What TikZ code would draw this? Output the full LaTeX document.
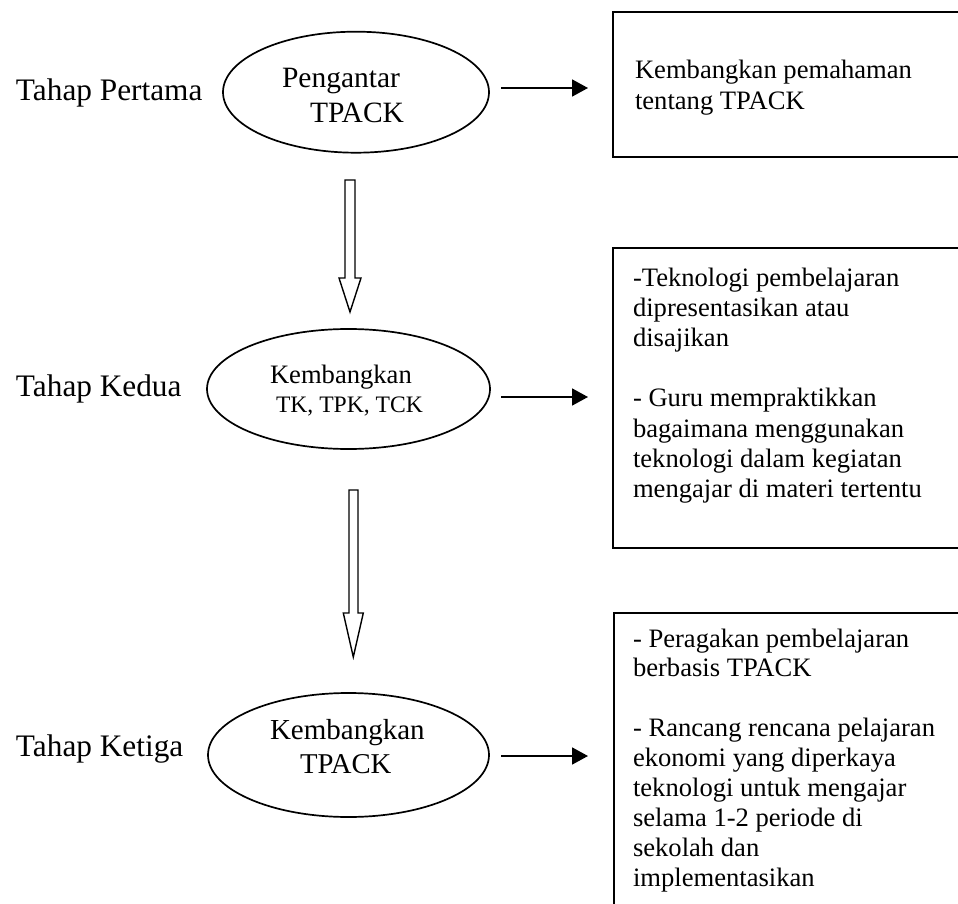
\documentclass[tikz,border=0pt]{standalone}
\usepackage{fontspec}
\setmainfont{Liberation Serif}
\usetikzlibrary{shapes.geometric,arrows.meta}
\tikzset{
  stage/.style={ellipse, draw, line width=1.7pt, inner sep=0pt, outer sep=0pt},
  infobox/.style={draw, line width=1.8pt, anchor=north west, inner sep=0pt, outer sep=0pt},
  rarrow/.style={line width=1.8pt, -{Triangle[length=16pt,width=17pt]}},
  hollowarrow/.style={draw, line width=1.4pt, fill=white, line join=miter},
  lbl/.style={anchor=base west, inner sep=0pt, outer sep=0pt},
}
\newcommand{\boxtext}[3]{\parbox[t]{320pt}{\raggedright\fontsize{26.6}{#1}\selectfont #3}}
\begin{document}
\begin{tikzpicture}[x=1pt,y=-1pt]
\useasboundingbox (0,0) rectangle (958,904);
\clip (0,0) rectangle (958,904);

% stage ellipses
\node[stage, minimum width=266pt, minimum height=121pt] (e1) at (356,92.2) {};
\node[stage, minimum width=283pt, minimum height=120pt] (e2) at (348.5,389) {};
\node[stage, minimum width=281pt, minimum height=124pt] (e3) at (348.5,755) {};

% boxes (run past the right and bottom edges)
\node[infobox, minimum width=400pt, minimum height=145pt] (b1) at (613,12) {};
\node[infobox, minimum width=400pt, minimum height=300pt] (b2) at (613,248) {};
\node[infobox, minimum width=400pt, minimum height=400pt] (b3) at (614,613) {};

% stage labels
\node[lbl, font=\fontsize{31.3}{36}\selectfont] (t1) at (16,100.7) {Tahap Pertama};
\node[lbl, font=\fontsize{31.3}{36}\selectfont] (t2) at (16,396) {Tahap Kedua};
\node[lbl, font=\fontsize{31.3}{36}\selectfont] (t3) at (16,756) {Tahap Ketiga};

% ellipse texts
\node[lbl, font=\fontsize{29.5}{34}\selectfont] (e1a) at (282,88) {Pengantar};
\node[lbl, font=\fontsize{29.5}{34}\selectfont] (e1b) at (310,123) {TPACK};
\node[lbl, font=\fontsize{26.6}{30}\selectfont] (e2a) at (270,383) {Kembangkan};
\node[lbl, font=\fontsize{23.6}{28}\selectfont] (e2b) at (276,412) {TK, TPK, TCK};
\node[lbl, font=\fontsize{29}{34}\selectfont] (e3a) at (270,739) {Kembangkan};
\node[lbl, font=\fontsize{28.7}{34}\selectfont] (e3b) at (300,773) {TPACK};

% box texts
\node[lbl] (b1t) at (635,79) {\boxtext{31}{}{Kembangkan pemahaman\\ tentang TPACK}};
\node[lbl] (b2t) at (633,286) {\boxtext{30.2}{}{-Teknologi pembelajaran\\ dipresentasikan atau\\ disajikan\\[30.2pt] - Guru mempraktikkan\\ bagaimana menggunakan\\ teknologi dalam kegiatan\\ mengajar di materi tertentu}};
\node[lbl] (b3t) at (633,647) {\boxtext{29.9}{}{- Peragakan pembelajaran\\ berbasis TPACK\\[29.9pt] - Rancang rencana pelajaran\\ ekonomi yang diperkaya\\ teknologi untuk mengajar\\ selama 1-2 periode di\\ sekolah dan\\ implementasikan}};

% arrows to boxes
\draw[rarrow, shorten <=12pt, shorten >=25pt] ([yshift=4.2pt]e1.east) -- ([yshift=4.2pt]e1.east -| b1.west);
\draw[rarrow, shorten <=11pt, shorten >=25pt] ([yshift=-8pt]e2.east) -- ([yshift=-8pt]e2.east -| b2.west);
\draw[rarrow, shorten <=12pt, shorten >=26pt] ([yshift=-1pt]e3.east) -- ([yshift=-1pt]e3.east -| b3.west);

% hollow block arrows between stages
\draw[hollowarrow] (345,180) -- (355,180) -- (355,278) -- (361,278) -- (350,312) -- (339,278) -- (345,278) -- cycle;
\draw[hollowarrow] (349,490) -- (358,490) -- (358,613) -- (363.3,613) -- (353.3,657) -- (343.3,613) -- (349,613) -- cycle;
\end{tikzpicture}
\end{document}
